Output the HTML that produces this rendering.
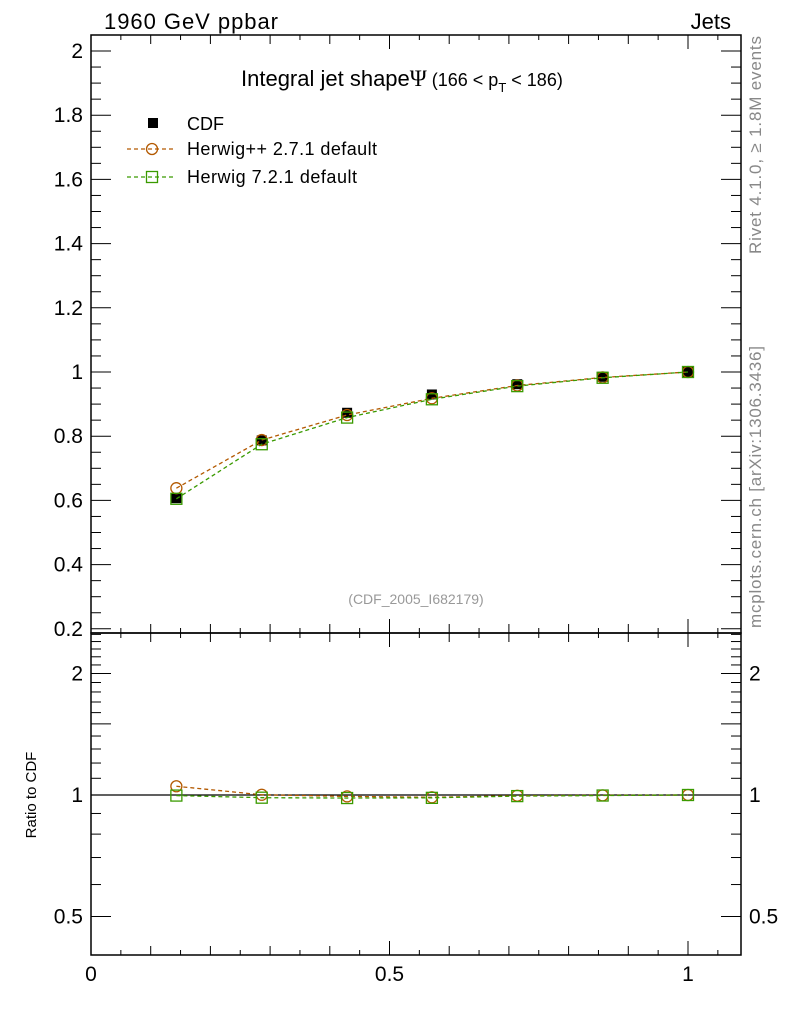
<!DOCTYPE html>
<html><head><meta charset="utf-8"><style>
html,body{margin:0;padding:0;background:#fff;}
svg{display:block;font-family:"Liberation Sans",sans-serif;}
</style></head><body>
<svg id="c" width="786" height="1024" viewBox="0 0 786 1024" xmlns="http://www.w3.org/2000/svg">
<g id="axes"></g><g id="marks"></g>
<text x="104" y="29" font-size="22" textLength="174">1960 GeV ppbar</text>
<text x="731" y="29" font-size="22" text-anchor="end">Jets</text>
<text x="241" y="86" font-size="22">Integral jet shape<tspan font-family="'Liberation Serif',serif" font-size="23">Ψ</tspan><tspan font-size="18"> (166 &lt; p</tspan><tspan font-size="13" dy="6">T</tspan><tspan font-size="18" dy="-6"> &lt; 186)</tspan></text>
<g>
<rect x="148" y="118" width="10" height="10" fill="#000"/>
<text x="187" y="130" font-size="18">CDF</text>
<line x1="127" y1="149" x2="176" y2="149" stroke="#b35900" stroke-dasharray="4,3" stroke-width="1.2"/>
<circle cx="152" cy="149" r="5.5" fill="none" stroke="#b35900" stroke-width="1.3"/>
<text x="187" y="155" font-size="18" textLength="190">Herwig++ 2.7.1 default</text>
<line x1="127" y1="177" x2="176" y2="177" stroke="#3a9a00" stroke-dasharray="4,3" stroke-width="1.2"/>
<rect x="146.5" y="171.5" width="11" height="11" fill="none" stroke="#3a9a00" stroke-width="1.3"/>
<text x="187" y="183" font-size="18" textLength="170">Herwig 7.2.1 default</text>
</g>
<text x="416" y="604" font-size="14" fill="#999" text-anchor="middle">(CDF_2005_I682179)</text>
<text transform="translate(761,145) rotate(-90)" font-size="17" fill="#888" text-anchor="middle" textLength="218">Rivet 4.1.0, ≥ 1.8M events</text>
<text transform="translate(761,487) rotate(-90)" font-size="17" fill="#888" text-anchor="middle" textLength="282">mcplots.cern.ch [arXiv:1306.3436]</text>
<text transform="translate(36,795) rotate(-90)" font-size="15" text-anchor="middle">Ratio to CDF</text>
</svg>
<script>
const xVals=[0.143,0.286,0.429,0.571,0.714,0.857,1.0];
const cdfVals=[0.607,0.787,0.873,0.930,0.962,0.985,1.0];
const hppVals=[0.638,0.788,0.866,0.918,0.958,0.983,1.0];
const h7Vals=[0.605,0.775,0.858,0.915,0.956,0.982,1.0];
const mainTicks=[0.2,0.4,0.6,0.8,1,1.2,1.4,1.6,1.8,2];
const ratioTicks=[0.5,1,2];
const xTicks=[0,0.5,1];
const NS='http://www.w3.org/2000/svg';
const L=91,R=741,T=35,MB=633,RB=955;
const X=v=>L+v*597;
const Y=v=>372-(v-1)*321;
const YR=v=>795-Math.log2(v)*121.5;
const ax=document.getElementById('axes'),mk=document.getElementById('marks');
function el(p,t,a){const e=document.createElementNS(NS,t);for(const k in a)e.setAttribute(k,a[k]);p.appendChild(e);return e;}
function ln(x1,y1,x2,y2,w){return el(ax,'line',{x1,y1,x2,y2,stroke:'#000','stroke-width':w||1});}
let f=el(ax,'rect',{x:L,y:T,width:R-L,height:MB-T,fill:'none',stroke:'#000','stroke-width':1.5});


f=el(ax,'rect',{x:L,y:MB,width:R-L,height:RB-MB,fill:'none',stroke:'#000','stroke-width':1.5});


for(let i=0;i<=21;i++){const v=i*0.05,x=X(v);if(x>R)break;
 const len=(i%10==0)?14:(i%2==0?9:5);
 ln(x,T,x,T+len);ln(x,MB,x,MB-len);ln(x,MB,x,MB+len);ln(x,RB,x,RB-len);}
xTicks.forEach(v=>{const t=el(ax,'text',{x:X(v),y:981,'font-size':21,'text-anchor':'middle'});t.textContent=String(v);
 
 });
for(let i=4;i<=41;i++){const v=i*0.05,y=Y(v);if(y<T||y>MB)continue;
 const len=(i%4==0)?20:10;ln(L,y,L+len,y);ln(R,y,R-len,y);}
mainTicks.forEach(v=>{const t=el(ax,'text',{x:L-8,y:Y(v)+7,'font-size':21,'text-anchor':'end'});t.textContent=String(v);
 
 });
const rmin=[0.4,0.6,0.7,0.8,0.9,1.1,1.2,1.3,1.4,1.6,1.7,1.8,1.9,2.1,2.2,2.3,2.4,2.5];
rmin.forEach(v=>{const y=YR(v);if(y<MB||y>RB)return;ln(L,y,L+10,y);ln(R,y,R-10,y);});
[0.5,1,1.5,2].forEach(v=>{const y=YR(v);ln(L,y,L+20,y);ln(R,y,R-20,y);});
ratioTicks.forEach(v=>{const y=YR(v)+7;
 let t=el(ax,'text',{x:L-8,y,'font-size':21,'text-anchor':'end'});t.textContent=String(v);
 
 
 t=el(ax,'text',{x:R+8,y,'font-size':21});t.textContent=String(v);
 
 });
ln(L,YR(1),R,YR(1),1.2);
function series(vals,col,shape,yf,name){
 const pts=xVals.map((x,i)=>[X(x),yf(vals[i],i)]);
 const p=el(mk,'polyline',{points:pts.map(p=>p.join(',')).join(' '),fill:'none',stroke:col,'stroke-width':1.3,'stroke-dasharray':'4,3'});
 
 
 pts.forEach(([x,y])=>{let m;
  if(shape=='c')m=el(mk,'circle',{cx:x,cy:y,r:5.5,fill:'none',stroke:col,'stroke-width':1.3});
  else m=el(mk,'rect',{x:x-5.5,y:y-5.5,width:11,height:11,fill:'none',stroke:col,'stroke-width':1.3});
  
  });
}
xVals.forEach((x,i)=>{const m=el(mk,'rect',{x:X(x)-5,y:Y(cdfVals[i])-5,width:10,height:10,fill:'#000'});
 
 });
series(hppVals,'#b35900','c',v=>Y(v),'herwigpp');
series(h7Vals,'#3a9a00','s',v=>Y(v),'herwig7');
series(hppVals,'#b35900','c',(v,i)=>YR(v/cdfVals[i]),'herwigpp-ratio');
series(h7Vals,'#3a9a00','s',(v,i)=>YR(v/cdfVals[i]),'herwig7-ratio');
</script>
</body></html>
